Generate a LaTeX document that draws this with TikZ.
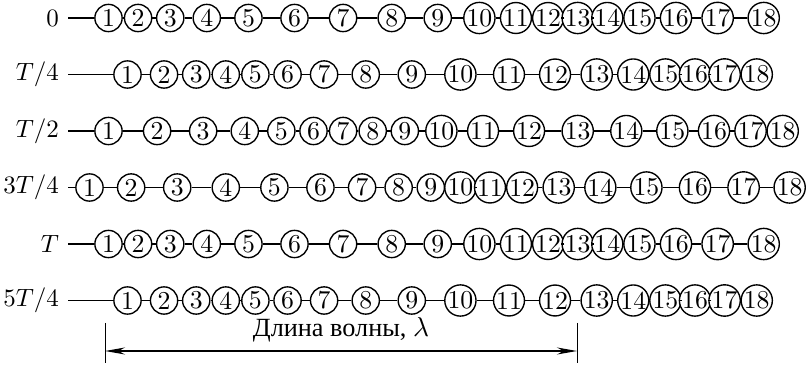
\documentclass[tikz,border=0pt]{standalone}
\usepackage{fontspec}
\newfontfamily\cyrfont{Liberation Serif}
\usetikzlibrary{arrows.meta}
\newcommand{\rowlabel}[1]{\ifcase#1 $0$\or $T/4$\or $T/2$\or $3T/4$\or $T$\or $5T/4$\fi}

\begin{document}
\begin{tikzpicture}[x=0.4pt,y=-0.4pt,>={Stealth[length=8pt,width=2.8pt]},
  ball/.style={draw,circle,fill=white,inner sep=0pt,minimum size=10.9pt,line width=0.55pt,
    font=\fontsize{10.3}{12}\selectfont},
  rod/.style={line width=0.55pt}]
  \useasboundingbox (0,0) rectangle (809,366);
  % one row per quarter period
  \foreach \r in {0,...,5}{
    \pgfmathsetmacro{\yy}{18+56.5*\r}
    \pgfmathsetmacro{\ph}{90*\r}
    \coordinate (s\r) at (68,\yy);
    \node[anchor=east,inner sep=0pt] (lab\r) at (59.5,\yy) {\rowlabel{\r}};
    \foreach \n in {1,...,18}{
      \pgfmathsetmacro{\xx}{108.5+39.1*(\n-1)+19*sin(\ph-30*(\n-1))}
      \node[ball] (p\r-\n) at (\xx,\yy) {\n};
    }
    \draw[rod] (s\r) -- (p\r-1);
    \foreach \n [count=\m from 2] in {1,...,17}
      \draw[rod] (p\r-\n) -- (p\r-\m);
  }
  % wavelength
  \coordinate (lt) at (105,323);
  \coordinate (lb) at (105,363);
  \coordinate (rt) at (577,323);
  \coordinate (rb) at (577,363);
  \coordinate (la) at (105,351);
  \coordinate (ra) at (577,351);
  \draw[line width=0.4pt] (lt) -- (lb);
  \draw[line width=0.4pt] (rt) -- (rb);
  \draw[<->,line width=0.55pt] (la) -- (ra);
  \node[anchor=base,font=\cyrfont\fontsize{10.5}{12}\selectfont] (wl) at (341,337) {Длина волны, $\lambda$};
\end{tikzpicture}
\end{document}
